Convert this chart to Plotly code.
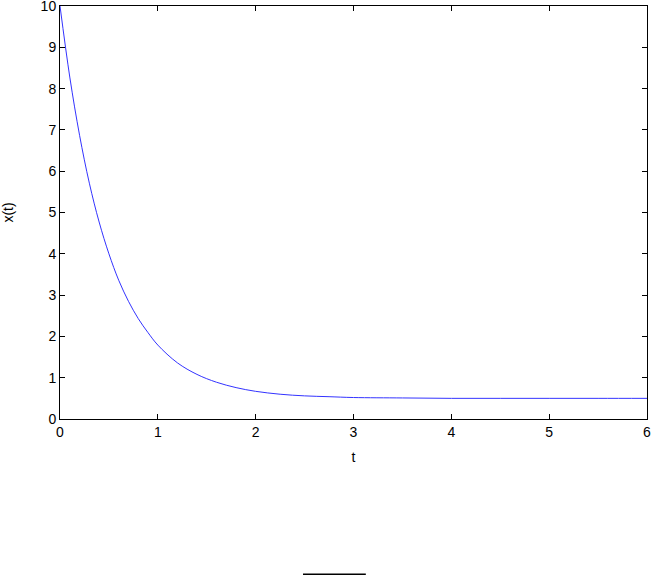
import plotly.graph_objects as go

t_vals = [0, 0.1, 0.2, 0.3, 0.4, 0.5, 0.6, 0.7, 0.8, 0.9, 1.0, 1.2, 1.4, 1.6, 1.8,
          2.0, 2.25, 2.5, 2.75, 3.0, 3.5, 4.0, 4.5, 5.0, 5.5, 6.0]
x_vals = [10.0, 8.28, 6.87, 5.71, 4.77, 4.0, 3.36, 2.85, 2.43, 2.09, 1.79, 1.36, 1.08,
          0.89, 0.76, 0.67, 0.60, 0.56, 0.54, 0.52, 0.51, 0.50, 0.50, 0.50, 0.50, 0.50]
x_ticks = [0, 1, 2, 3, 4, 5, 6]
y_ticks = [0, 1, 2, 3, 4, 5, 6, 7, 8, 9, 10]

fig = go.Figure()
fig.add_trace(go.Scatter(x=t_vals, y=x_vals, mode="lines", line=dict(color="#3333ff", width=1, shape="spline"),
                         showlegend=False))

font = dict(family="Liberation Sans, Arial, sans-serif", size=14, color="black")
axis_common = dict(showgrid=False, zeroline=False, showline=True, linecolor="black", linewidth=1,
                   mirror="ticks", ticks="inside", ticklen=5, tickcolor="black", tickfont=font,
                   automargin=False, ticklabeloverflow="allow")

fig.update_layout(
    width=652, height=576,
    margin=dict(l=60, r=5, t=6, b=157),
    plot_bgcolor="white", paper_bgcolor="white",
    font=font,
    xaxis=dict(range=[0, 6], tickvals=x_ticks, ticktext=[str(v) for v in x_ticks],
               title=dict(text="t", font=font, standoff=13), **axis_common),
    yaxis=dict(range=[0, 10], tickvals=y_ticks, ticktext=[str(v) for v in y_ticks],
               title=dict(text="x(t)", font=font, standoff=24), **axis_common),
    shapes=[dict(type="line", xref="paper", yref="paper", x0=0.414, x1=0.521, y0=-0.376, y1=-0.376,
                 line=dict(color="black", width=1.5))],
)

fig.write_html("out.html", config={"displayModeBar": False},
               post_script="document.body.style.margin='0';document.body.style.overflow='hidden';")
